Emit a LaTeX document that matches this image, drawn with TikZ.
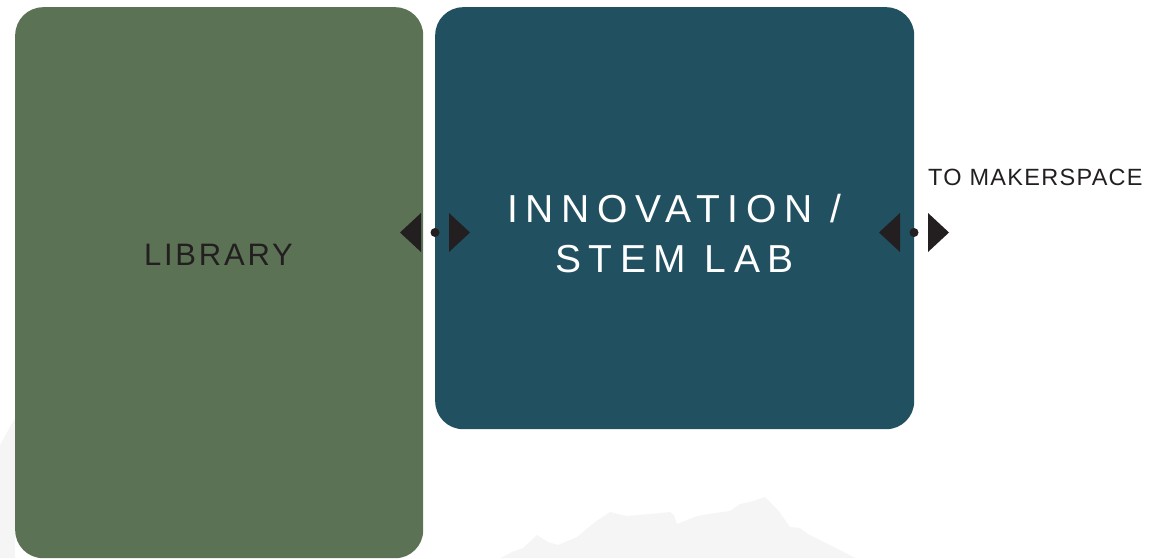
\documentclass[tikz,border=0pt]{standalone}
\usepackage{fontspec}
\usetikzlibrary{calc}
\newfontfamily\bigspaced[LetterSpace=19.5]{Liberation Sans}
\newfontfamily\midspaced[LetterSpace=9]{Liberation Sans}
\newfontfamily\smallspaced[LetterSpace=5.5]{Liberation Sans}
\definecolor{libgreen}{RGB}{91,115,84}
\definecolor{labblue}{RGB}{33,80,96}
\definecolor{inkdark}{RGB}{35,31,32}
\definecolor{faint}{RGB}{245,245,245}
\tikzset{
  room/.style={draw=none, rounded corners=28pt, anchor=north west, inner sep=0pt},
  tri/.style={fill=inkdark, draw=none},
  dotmark/.style={fill=inkdark, draw=none},
}
\begin{document}
\begin{tikzpicture}[x=1pt,y=-1pt]
\useasboundingbox (0,0) rectangle (1163,558);
% faint background silhouettes
\fill[faint] (0,445) -- (15,418) -- (15,558) -- (0,558) -- cycle;
\fill[faint] (500,558) -- (512,552) -- (523,548) -- (537,535) -- (548,542) -- (558,545) -- (577,537) -- (595,522) -- (610,512) -- (627,516) -- (650,514) -- (670,512) -- (674,515) -- (677,524) -- (697,516) -- (715,513) -- (730,511) -- (740,504) -- (750,502) -- (765,497) -- (778,510) -- (790,527) -- (800,528) -- (808,534) -- (820,540) -- (840,550) -- (855,558) -- cycle;
% rooms
\node[room, fill=libgreen, minimum width=408pt, minimum height=551pt] (lib) at (15,7) {};
\node[room, fill=labblue, minimum width=479pt, minimum height=422pt] (lab) at (435,7) {};
% labels
\node[text=inkdark, font=\midspaced\fontsize{31}{31}\selectfont, inner sep=0pt] (libtxt) at (218.5,254.5) {LIBRARY};
\node[text=white, font=\bigspaced\fontsize{39}{50}\selectfont, align=center, inner sep=0pt] (labtxt) at (674.5,234) {INNOVATION /\\STEM LAB};
\node[text=inkdark, font=\smallspaced\fontsize{23.5}{24}\selectfont, anchor=base west, inner sep=0pt] (mk) at (928,185) {TO MAKERSPACE};
% connector markers
\coordinate (c1) at (435,232.5);
\coordinate (c2) at (914,232.5);
\foreach \c in {c1,c2}{
  \fill[dotmark] (\c) circle (4.5);
  \fill[tri] ($(\c)+(-14,-19.5)$) -- ($(\c)+(-14,19.5)$) -- ($(\c)+(-35,0)$) -- cycle;
  \fill[tri] ($(\c)+(14,-19.5)$) -- ($(\c)+(14,19.5)$) -- ($(\c)+(35,0)$) -- cycle;
}
\end{tikzpicture}
\end{document}
